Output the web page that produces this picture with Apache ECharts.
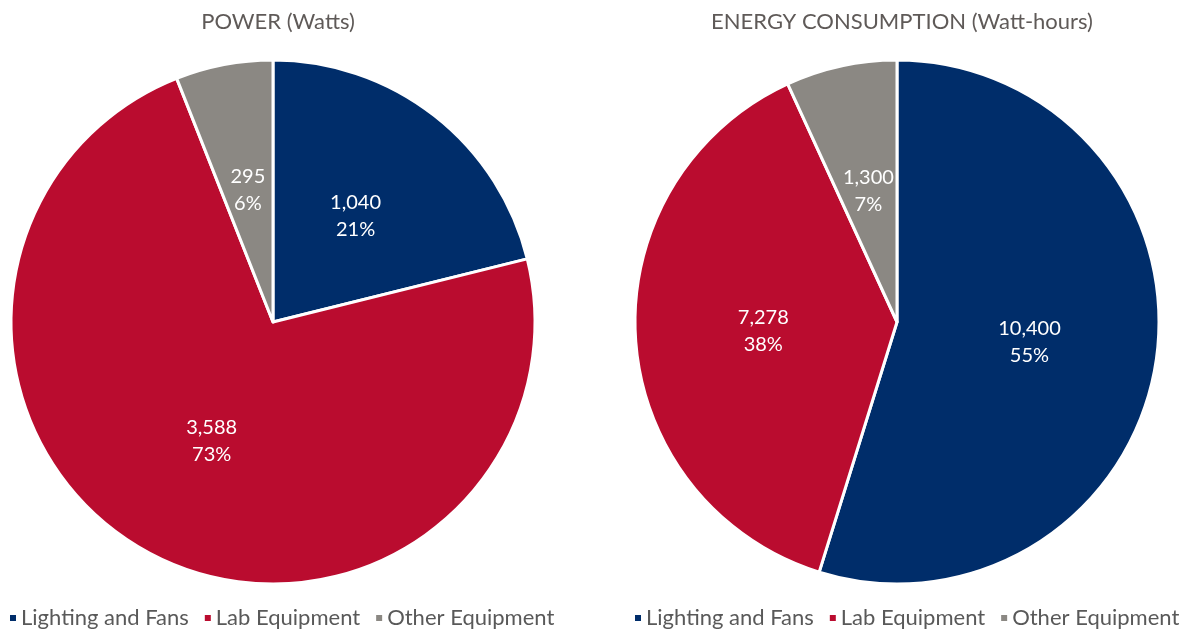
<!DOCTYPE html>
<html>
<head>
<meta charset="utf-8">
<script src="https://cdn.jsdelivr.net/npm/echarts@6/dist/echarts.min.js"></script>
<style>
  html, body { margin: 0; padding: 0; background: #fff; }
  #chart { width: 1188px; height: 635px; }
</style>
</head>
<body>
<div id="chart"></div>
<script>
// categories and values
var categories = ['Lighting and Fans', 'Lab Equipment', 'Other Equipment'];
var powerValues = [1040, 3588, 295];
var energyValues = [10400, 7278, 1300];
var titles = ['POWER (Watts)', 'ENERGY CONSUMPTION (Watt-hours)'];

var colors = ['#002D6A', '#BA0C2F', '#8B8883'];
var fontFamily = 'Lato, "Open Sans", sans-serif';

function toData(values) {
    return categories.map(function (name, i) {
        return { name: name, value: values[i] };
    });
}

// pie series, label = value + percent inside slice
function makePie(values, cx) {
    return {
        type: 'pie',
        center: [cx, 322],
        radius: [0, 262],
        startAngle: 90,
        clockwise: true,
        avoidLabelOverlap: false,
        emphasis: { scale: false },
        itemStyle: { borderColor: '#fff', borderWidth: 3 },
        label: {
            show: true,
            position: 'inside',
            color: '#fff',
            fontFamily: fontFamily,
            fontSize: 20,
            lineHeight: 27,
            formatter: function (p) {
                return p.value.toLocaleString('en-US') + '\n' + Math.round(p.percent) + '%';
            }
        },
        labelLine: { show: false },
        data: toData(values)
    };
}

var chart = echarts.init(document.getElementById('chart'));
var legendBase = {
    bottom: 1,
    icon: 'rect',
    itemWidth: 8,
    itemHeight: 8,
    itemGap: 14,
    textStyle: { color: '#595959', fontSize: 22, fontFamily: fontFamily, padding: [0, 0, 0, -1] },
    data: categories
};
var titleStyle = { color: '#5F5A58', fontSize: 22, fontWeight: 'normal', fontFamily: fontFamily };

chart.setOption({
    color: colors,
    animation: false,
    title: [{
        text: titles[0],
        left: 273,
        top: 6,
        textAlign: 'center',
        textStyle: titleStyle
    }, {
        text: titles[1],
        left: 897,
        top: 6,
        textAlign: 'center',
        textStyle: titleStyle
    }],
    legend: [
        Object.assign({}, legendBase, { left: 3 }),
        Object.assign({}, legendBase, { left: 628 })
    ],
    series: [makePie(powerValues, 273), makePie(energyValues, 897)]
});
</script>
</body>
</html>
